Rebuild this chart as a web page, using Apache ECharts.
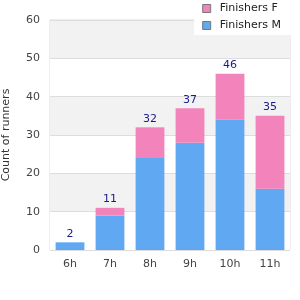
<!DOCTYPE html>
<html><head><meta charset="utf-8">
<script src="https://cdn.jsdelivr.net/npm/echarts@6/dist/echarts.min.js"></script>
<style>html,body{margin:0;padding:0;background:#fff}#c{width:300px;height:300px}</style>
</head><body><div id="c"></div>
<script>
var categories = ['6h','7h','8h','9h','10h','11h'];
var finishersM = [2, 9, 24, 28, 34, 16];
var finishersF = [0, 2, 8, 9, 12, 19];
var totals = [2, 11, 32, 37, 46, 35];
var yTicks = [0, 10, 20, 30, 40, 50, 60];

var chart = echarts.init(document.getElementById('c'), null, {renderer:'canvas'});
chart.setOption({
  animation:false,
  textStyle:{fontFamily:'DejaVu Sans'},
  legend:{
    data:['Finishers F','Finishers M'],
    orient:'vertical', right:9, top:0,
    backgroundColor:'#fff',
    padding:[3,10,4,8],
    itemWidth:8, itemHeight:8, itemGap:6,
    textStyle:{fontSize:11,color:'#222',fontFamily:'DejaVu Sans',padding:[0,0,0,4]},
    icon:'rect',
    itemStyle:{borderColor:'#777',borderWidth:1}
  },
  grid:{left:50,right:10,top:20,bottom:50,show:true,borderColor:'#ddd',borderWidth:1,containLabel:false,outerBoundsMode:'none'},
  xAxis:{
    type:'category', data:categories,
    axisLine:{show:false}, axisTick:{show:false},
    axisLabel:{fontSize:11,color:'#444',margin:9,fontFamily:'DejaVu Sans'}
  },
  yAxis:{
    type:'value', min:yTicks[0], max:yTicks[yTicks.length-1], interval:10,
    name:'Count of runners', nameLocation:'middle', nameGap:38,
    nameTextStyle:{fontSize:11,color:'#333',fontFamily:'DejaVu Sans'},
    axisLine:{show:false}, axisTick:{show:false},
    axisLabel:{fontSize:11,color:'#444',margin:10,fontFamily:'DejaVu Sans'},
    splitLine:{lineStyle:{color:'#ddd'}},
    splitArea:{show:true,areaStyle:{color:['#ffffff','#f2f2f2']}}
  },
  series:[
    {name:'Finishers M',type:'bar',stack:'a',data:finishersM,barWidth:'72%',
     itemStyle:{color:'#61a8f2'}},
    {name:'Finishers F',type:'bar',stack:'a',data:finishersF,barWidth:'72%',
     itemStyle:{color:'#f283bb'},
     label:{show:true,position:'top',distance:3,fontSize:11,color:'#1a1a8f',fontFamily:'DejaVu Sans',
       formatter:function(p){return totals[p.dataIndex];}}}
  ]
});
</script></body></html>
